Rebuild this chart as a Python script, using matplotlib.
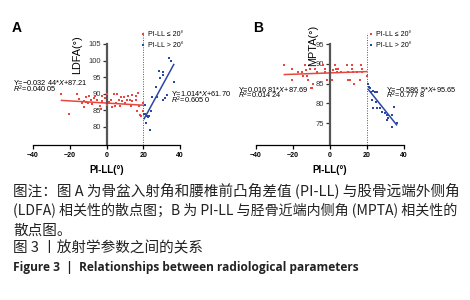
import matplotlib
matplotlib.use('Agg')
import matplotlib.pyplot as plt
import numpy as np

plt.rcParams['font.family'] = ['Liberation Sans', 'Noto Sans CJK SC', 'DejaVu Sans']
plt.rcParams['mathtext.fontset'] = 'custom'
plt.rcParams['mathtext.rm'] = 'Liberation Sans'
plt.rcParams['mathtext.it'] = 'Liberation Sans:italic'

# panel A: PI-LL vs LDFA
a_low_x = [-24.5, -20.5, -16.3, -14.7, -13.6, -12.3, -11.4, -10.9, -10.0, -9.6, -8.7, -6.9,
           -6.4, -5.1, -3.3, -2.7, -2.4, -0.9, 0.4, 1.3, 2.2, 4.0, 4.5, 5.3, 5.8, 6.7, 7.6,
           8.5, 9.4, 10.3, 11.2, 11.8, 12.7, 13.1, 14.0, 14.0, 15.8, 16.3, 16.7, 17.2, 17.6,
           18.5, 19.0, 19.8, 20.0, -12.0, -3.0, 3.0, 8.0, -8.0, 0.0]
a_low_y = [90.0, 84.0, 90.0, 88.4, 87.2, 87.7, 88.9, 87.4, 87.2, 89.2, 88.2, 88.7,
           89.2, 88.2, 86.2, 89.2, 87.7, 88.7, 90.0, 87.4, 88.2, 90.0, 86.4, 87.2, 90.0, 88.2, 86.2,
           87.7, 88.9, 87.2, 88.2, 89.2, 88.2, 86.2, 87.7, 89.7, 88.2, 89.2, 84.7, 90.1, 86.2,
           83.7, 83.2, 84.7, 87.2, 86.0, 85.5, 86.0, 89.0, 87.0, 86.5]
a_high_x = [34.1, 35.0, 28.7, 31.0, 30.7, 29.2, 36.6, 26.8, 24.7, 30.5, 31.9, 21.0, 24.3,
            22.0, 22.9, 21.0, 21.4, 23.8, 20.5, 33.0, 27.5, 22.5]
a_high_y = [100.8, 99.8, 97.0, 96.6, 95.6, 94.8, 93.6, 92.0, 88.9, 88.2, 88.7, 86.7, 84.7,
            83.2, 83.2, 83.8, 81.2, 79.2, 84.0, 89.5, 89.0, 83.0]
a_fit_low = (-0.03244, 87.21)
a_fit_high = (1.014, 61.70)

# panel B: PI-LL vs MPTA
b_low_x = [-24.7, -20.7, -20.7, -17.1, -15.3, -14.4, -13.5, -13.2, -12.6, -11.7, -10.8, -10.3,
           -9.6, -9.0, -8.1, -7.2, -3.6, -2.7, -2.7, -1.8, 0.9, 1.8, 2.7, 3.2, 4.5, 3.6, 5.9,
           9.0, 9.9, 9.6, 10.8, 11.7, 12.1, 12.6, 13.0, 14.4, 16.2, 16.8, 17.1, 17.5, 19.8]
b_low_y = [89.7, 88.6, 85.9, 87.8, 87.8, 86.8, 89.7, 88.4, 87.0, 85.9, 88.8, 83.8,
           83.8, 85.0, 88.8, 88.0, 89.7, 88.8, 88.0, 85.9, 85.9, 88.4, 89.7, 88.8, 88.8, 88.0, 88.0,
           89.7, 88.0, 85.9, 85.9, 89.7, 88.8, 88.0, 85.0, 88.0, 85.9, 89.7, 88.8, 88.0, 86.9]
b_high_x = [20.7, 21.6, 22.2, 24.3, 25.2, 22.5, 24.7, 23.4, 25.2, 27.0, 29.7, 30.6, 31.5,
            31.5, 33.3, 34.8, 33.7, 36.0, 27.9, 30.6, 21.3, 23.0]
b_high_y = [85.0, 83.8, 82.9, 82.9, 82.9, 80.8, 80.2, 78.9, 78.7, 78.7, 77.5, 77.0, 77.0,
            76.2, 77.0, 79.0, 74.1, 74.9, 77.9, 75.8, 84.2, 83.0]
b_fit_low = (0.01681, 87.69)
b_fit_high = (-0.5865, 95.65)

x_ticks = [-40, -20, 0, 20, 40]
a_yticks = [80, 85, 90, 95, 100, 105]
b_yticks = [75, 80, 85, 90, 95]

red = '#e8473f'
blue = '#2b47a6'
W, H = 470, 300

fig = plt.figure(figsize=(4.7, 3.0), dpi=100)


def fx(px):
    return px / W


def fy(py):
    return 1 - py / H


def panel(rect, ylim, yticks, ylabel, lx, hx, ly, hy, fit_lo, fit_hi):
    ax = fig.add_axes(rect)
    ax.scatter(lx, ly, s=3.5, marker='s', color=red, linewidths=0, label='PI-LL ≤ 20°', zorder=3)
    ax.scatter(hx, hy, s=3.5, marker='s', color=blue, linewidths=0, label='PI-LL > 20°', zorder=3)
    xs = np.array([min(lx), max(lx)])
    ax.plot(xs, fit_lo[0] * xs + fit_lo[1], color=red, lw=1.1, zorder=2)
    xs = np.array([min(hx), max(hx)])
    ax.plot(xs, fit_hi[0] * xs + fit_hi[1], color=blue, lw=1.1, zorder=2)
    ax.axvline(20, color='#555555', lw=0.7, ls=(0, (1, 1.5)), zorder=1)
    ax.set_xlim(-40, 40)
    ax.set_ylim(*ylim)
    ax.spines['top'].set_visible(False)
    ax.spines['right'].set_visible(False)
    ax.spines['left'].set_position(('data', 0))
    ax.spines['left'].set_bounds(ylim[0], yticks[-1])
    ax.spines['left'].set_linewidth(1.6)
    ax.spines['left'].set_color('#555555')
    ax.spines['bottom'].set_linewidth(0.9)
    ax.set_xticks(x_ticks)
    ax.set_yticks(yticks)
    ax.tick_params(axis='x', length=3, width=0.9, labelsize=5, pad=2)
    ax.tick_params(axis='y', length=3, width=0.9, labelsize=5.5, pad=1, colors='#333333')
    for t in ax.get_xticklabels():
        t.set_fontweight('bold')
    ax.set_xlabel('PI-LL(°)', fontsize=7, fontweight='bold', labelpad=4)
    ax.set_ylabel(ylabel, fontsize=7.8)
    ax.patch.set_alpha(0)
    return ax


axA = panel([fx(33), fy(145), fx(147), (145 - 32) / H], (74.58, 108.6), a_yticks, 'LDFA(°)',
            a_low_x, a_high_x, a_low_y, a_high_y, a_fit_low, a_fit_high)
axA.yaxis.set_label_coords(0.5 - 24 / 147, 1 - (55 - 32) / 113)
axB = panel([fx(256), fy(145), fx(148), (145 - 33) / H], (69.43, 97.8), b_yticks, 'MPTA(°)',
            b_low_x, b_high_x, b_low_y, b_high_y, b_fit_low, b_fit_high)
axB.yaxis.set_label_coords(0.5 - 12 / 148, 1 - (45 - 33) / 112)

for ax, bx in [(axA, 141), (axB, 369)]:
    ax.legend(loc='upper left', bbox_to_anchor=(fx(bx), fy(31)), bbox_transform=fig.transFigure,
              frameon=False, fontsize=5, handlelength=0.6, handletextpad=0.4, labelspacing=0.55,
              borderpad=0, borderaxespad=0, markerscale=1.0)

fig.text(fx(12), fy(28), 'A', fontsize=10, fontweight='bold', va='center')
fig.text(fx(253), fy(28), 'B', fontsize=10, fontweight='bold', va='center')

eq = dict(fontsize=5.3, va='center', ha='left')
fig.text(fx(13), fy(83), 'Y=−0.032 44*$X$+87.21', **eq)
fig.text(fx(13), fy(89.5), '$R^2$=0.040 05', **eq)
fig.text(fx(171), fy(94), 'Y=1.014*$X$+61.70', **eq)
fig.text(fx(171), fy(100.5), '$R^2$=0.605 0', **eq)
fig.text(fx(238), fy(89), 'Y=0.016 81*$X$+87.69', **eq)
fig.text(fx(238), fy(95.5), '$R^2$=0.014 24', **eq)
fig.text(fx(386), fy(89), 'Y=−0.586 5*$X$+95.65', **eq)
fig.text(fx(386), fy(95.5), '$R^2$=0.777 8', **eq)

cap = dict(va='center', ha='left', color='#222222', family=['Noto Sans CJK SC', 'DejaVu Sans'])
fig.text(fx(13), fy(190), '图注：图 A 为骨盆入射角和腰椎前凸角差值 (PI-LL) 与股骨远端外侧角',
         fontsize=10.5, **cap)
fig.text(fx(13), fy(211), '(LDFA) 相关性的散点图；B 为 PI-LL 与胫骨近端内侧角 (MPTA) 相关性的',
         fontsize=10.1, **cap)
fig.text(fx(13), fy(231), '散点图。', fontsize=10.5, **cap)
fig.text(fx(13), fy(248), '图 3 丨放射学参数之间的关系', fontsize=10.5, **cap)
fig.text(fx(13), fy(268), 'Figure 3  |  Relationships between radiological parameters',
         fontsize=8.6, fontweight='bold', va='center', ha='left', color='#222222',
         family=['Open Sans', 'DejaVu Sans'])

fig.savefig('out.png', dpi=100)
